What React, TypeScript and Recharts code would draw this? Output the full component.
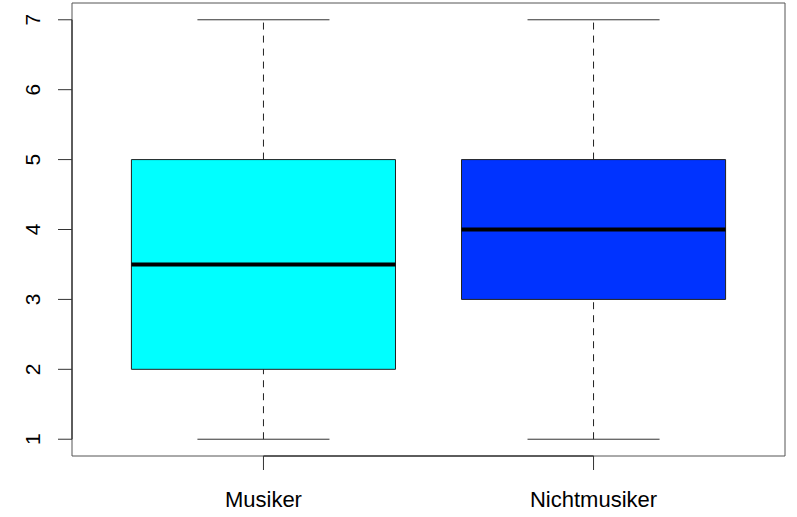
import { ComposedChart, ReferenceArea, ReferenceLine, Scatter, XAxis, YAxis } from 'recharts'

const groups = ['Musiker', 'Nichtmusiker']
const positions = [1, 2]
const mins = [1, 1]
const q1s = [2, 3]
const medians = [3.5, 4]
const q3s = [5, 5]
const maxs = [7, 7]
const fills = ['#00FFFF', '#0033FF']
const yTicks = [1, 2, 3, 4, 5, 6, 7]

// R-style axis limits: 4% extension around the data range
const X_DOMAIN: [number, number] = [0.42, 2.58]
const Y_DOMAIN: [number, number] = [0.76, 7.24]
const BOX_HALF = 0.4
const CAP_HALF = 0.2
const FONT = 'Liberation Sans, Arial, sans-serif'

const medianPoints = positions.map((x, i) => ({ x, y: medians[i] }))

function YTick({ y, payload }: { y?: number; payload?: { value: number } }) {
  const X = 40
  return (
    <text
      x={X}
      y={y}
      transform={`rotate(-90 ${X} ${y})`}
      textAnchor="middle"
      fill="#000"
      fontSize={21}
      fontFamily={FONT}
    >
      {payload?.value}
    </text>
  )
}

export default function App() {
  return (
    <div style={{ position: 'absolute', left: 0, top: 0, width: 797, height: 517, background: '#fff' }}>
      <ComposedChart width={797} height={517} margin={{ top: 3, right: 12, bottom: 0, left: 0 }}>
        <XAxis
          type="number"
          dataKey="x"
          domain={X_DOMAIN}
          ticks={positions}
          allowDataOverflow
          tickFormatter={(v: number) => groups[positions.indexOf(v)] ?? ''}
          height={61}
          tickSize={14}
          tickMargin={21}
          axisLine={false}
          tickLine={{ stroke: '#333' }}
          tick={{ fill: '#000', fontSize: 22, fontFamily: FONT }}
        />
        <YAxis
          type="number"
          dataKey="y"
          domain={Y_DOMAIN}
          ticks={yTicks}
          allowDataOverflow
          width={72}
          tickSize={14}
          tickMargin={2}
          axisLine={false}
          tickLine={{ stroke: '#333' }}
          tick={<YTick />}
        />

        {positions.map((p, i) => (
          <ReferenceLine
            key={`wl-${i}`}
            segment={[{ x: p, y: mins[i] }, { x: p, y: q1s[i] }]}
            stroke="#222"
            strokeDasharray="7 6"
          />
        ))}
        {positions.map((p, i) => (
          <ReferenceLine
            key={`wu-${i}`}
            segment={[{ x: p, y: q3s[i] }, { x: p, y: maxs[i] }]}
            stroke="#222"
            strokeDasharray="7 6"
          />
        ))}
        {positions.map((p, i) => (
          <ReferenceLine
            key={`cl-${i}`}
            segment={[{ x: p - CAP_HALF, y: mins[i] }, { x: p + CAP_HALF, y: mins[i] }]}
            stroke="#333"
          />
        ))}
        {positions.map((p, i) => (
          <ReferenceLine
            key={`cu-${i}`}
            segment={[{ x: p - CAP_HALF, y: maxs[i] }, { x: p + CAP_HALF, y: maxs[i] }]}
            stroke="#333"
          />
        ))}
        {positions.map((p, i) => (
          <ReferenceArea
            key={`box-${i}`}
            x1={p - BOX_HALF}
            x2={p + BOX_HALF}
            y1={q1s[i]}
            y2={q3s[i]}
            fill={fills[i]}
            fillOpacity={1}
            stroke="#222"
            strokeWidth={1}
          />
        ))}
        {positions.map((p, i) => (
          <ReferenceLine
            key={`med-${i}`}
            segment={[{ x: p - BOX_HALF, y: medians[i] }, { x: p + BOX_HALF, y: medians[i] }]}
            stroke="#000"
            strokeWidth={4}
          />
        ))}

        {/* plot frame */}
        <ReferenceArea
          x1={X_DOMAIN[0]}
          x2={X_DOMAIN[1]}
          y1={Y_DOMAIN[0]}
          y2={Y_DOMAIN[1]}
          fill="none"
          stroke="#555"
          strokeWidth={1}
          ifOverflow="visible"
        />
        {/* R axis lines span only the tick range */}
        <ReferenceLine
          segment={[{ x: X_DOMAIN[0], y: yTicks[0] }, { x: X_DOMAIN[0], y: yTicks[yTicks.length - 1] }]}
          stroke="#111"
          ifOverflow="visible"
        />
        <ReferenceLine
          segment={[{ x: positions[0], y: Y_DOMAIN[0] }, { x: positions[positions.length - 1], y: Y_DOMAIN[0] }]}
          stroke="#111"
          ifOverflow="visible"
        />

        <Scatter data={medianPoints} dataKey="y" shape={() => <g />} isAnimationActive={false} />
      </ComposedChart>
    </div>
  )
}
